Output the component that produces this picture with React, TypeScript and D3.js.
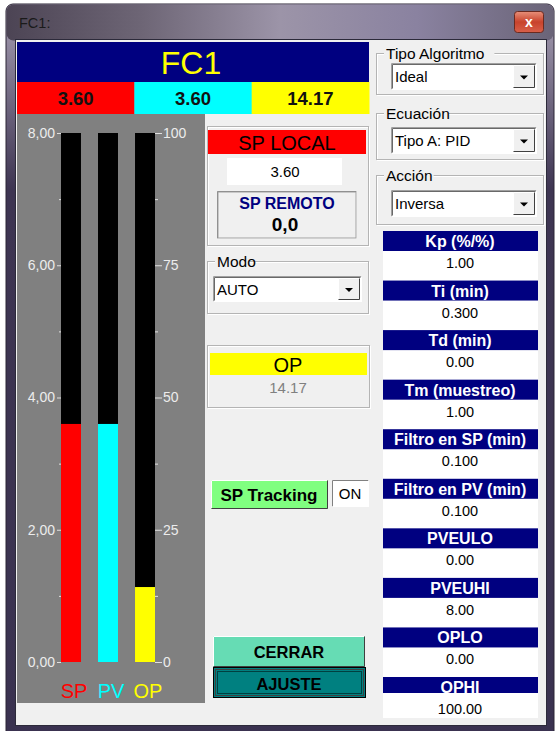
import React from 'react';
import * as d3 from 'd3';

// bar data: SP and PV in engineering units (0-8), OP in percent (0-100)
const barNames = ['SP', 'PV', 'OP'];
const barValues = [3.6, 3.6, 14.17];
const barColors = ['#ff0000', '#00ffff', '#ffff00'];
const headerValues = ['3.60', '3.60', '14.17'];
const euTicks = [0, 2, 4, 6, 8];
const euMinorTicks = [1, 3, 5, 7];
const pctTicks = [0, 25, 50, 75, 100];
const pctMinorTicks = [12.5, 37.5, 62.5, 87.5];

const comboLabels = ['Tipo Algoritmo', 'Ecuación', 'Acción'];
const comboValues = ['Ideal', 'Tipo A: PID', 'Inversa'];

const paramLabels = [
  'Kp (%/%)', 'Ti (min)', 'Td (min)', 'Tm (muestreo)', 'Filtro en SP (min)',
  'Filtro en PV (min)', 'PVEULO', 'PVEUHI', 'OPLO', 'OPHI'
];
const paramValues = ['1.00', '0.300', '0.00', '1.00', '0.100', '0.100', '0.00', '8.00', '0.00', '100.00'];

const tagName = 'FC1';
const spLocal = '3.60';
const spRemote = '0,0';
const mode = 'AUTO';
const opValue = '14.17';

const FONT = '"Liberation Sans", Arial, sans-serif';
const BG = '#f0f0f0';

type BoxProps = { x: number; y: number; w: number; h: number; fill?: string; sunken?: boolean; dark?: string };

const Bevel: React.FC<BoxProps> = ({ x, y, w, h, fill = BG, sunken = false, dark = '#404040' }) => {
  const tl = sunken ? '#808080' : '#ffffff';
  const br = sunken ? '#ffffff' : dark;
  return (
    <g>
      <rect x={x} y={y} width={w} height={h} fill={fill} />
      <path d={`M${x + 0.5},${y + h - 0.5}V${y + 0.5}H${x + w - 0.5}`} stroke={tl} fill="none" />
      <path d={`M${x + 0.5},${y + h - 0.5}H${x + w - 0.5}V${y + 0.5}`} stroke={br} fill="none" />
    </g>
  );
};

const GroupBox: React.FC<{ x: number; y: number; w: number; h: number; label?: string }> = ({ x, y, w, h, label }) => (
  <g>
    <rect x={x + 1.5} y={y + 1.5} width={w - 1} height={h - 1} fill="none" stroke="#ffffff" />
    <rect x={x + 0.5} y={y + 0.5} width={w - 1} height={h - 1} fill="none" stroke="#b4b4b4" />
    {label && (
      <>
        <rect x={x + 8} y={y - 6} width={label.length * 7.6 + 4} height={12} fill={BG} />
        <text x={x + 10} y={y + 6} fontSize={15.5} fontFamily={FONT} fill="#000">{label}</text>
      </>
    )}
  </g>
);

const Combo: React.FC<{ x: number; y: number; w: number; h: number; value: string }> = ({ x, y, w, h, value }) => {
  const bx = x + w - 24;
  return (
    <g>
      <rect x={x} y={y} width={w} height={h} fill="#ffffff" />
      <path d={`M${x + 0.5},${y + h - 0.5}V${y + 0.5}H${x + w - 0.5}`} stroke="#a0a0a0" fill="none" />
      <path d={`M${x + 1.5},${y + h - 1.5}V${y + 1.5}H${x + w - 1.5}`} stroke="#696969" fill="none" />
      <path d={`M${x + 0.5},${y + h - 0.5}H${x + w - 0.5}V${y + 0.5}`} stroke="#ffffff" fill="none" />
      <Bevel x={bx} y={y + 2} w={22} h={h - 4} />
      <path d={`M${bx + 7},${y + h / 2 - 1}h8l-4,4z`} fill="#000" />
      <text x={x + 4} y={y + h / 2 + 5.5} fontSize={15} fontFamily={FONT} fill="#000">{value}</text>
    </g>
  );
};

const App: React.FC = () => {
  const leftAxisRef = React.useRef<SVGGElement>(null);
  const rightAxisRef = React.useRef<SVGGElement>(null);

  const x = d3.scaleBand<string>().domain(barNames).range([61, 155]).paddingInner(0.46).paddingOuter(0);
  const yEu = d3.scaleLinear().domain([0, 8]).range([662, 133]);
  const yPct = d3.scaleLinear().domain([0, 100]).range([662, 133]);
  const yFor = (i: number) => (barNames[i] === 'OP' ? yPct : yEu);

  // header cells across the navy tag box
  const cellX = d3.scaleLinear().domain([0, 3]).range([17, 369]);
  const paramY = d3.scaleLinear().domain([0, paramLabels.length - 1]).range([231, 677]);

  React.useEffect(() => {
    const commaFmt = (d: d3.NumberValue) => d3.format('.2f')(d as number).replace('.', ',');

    const left = d3.select(leftAxisRef.current);
    left.selectAll('*').remove();
    left.append('g').call(d3.axisLeft(yEu).tickValues(euTicks).tickSize(4).tickPadding(2).tickFormat(commaFmt));
    left.append('g').call(d3.axisLeft(yEu).tickValues(euMinorTicks).tickSize(2).tickFormat(() => ''));

    const right = d3.select(rightAxisRef.current);
    right.selectAll('*').remove();
    right.append('g').call(d3.axisRight(yPct).tickValues(pctTicks).tickSize(7).tickPadding(1).tickFormat(d3.format('d')));
    right.append('g').call(d3.axisRight(yPct).tickValues(pctMinorTicks).tickSize(3).tickFormat(() => ''));

    [left, right].forEach((g) => {
      g.selectAll('.domain').remove();
      g.selectAll('line').attr('stroke', '#e0e0e0');
      g.selectAll('text').attr('fill', '#ececec').attr('font-size', 14).attr('font-family', FONT);
    });
  }, []);

  return (
    <svg width={557} height={731} style={{ position: 'absolute', left: 0, top: 0 }} fontFamily={FONT}>
      <defs>
        <linearGradient id="titleGrad" x1="0" x2="1" y1="0" y2="0">
          <stop offset="0" stopColor="#4c4454" />
          <stop offset="0.25" stopColor="#6e6676" />
          <stop offset="0.5" stopColor="#9c94a8" />
          <stop offset="0.75" stopColor="#8a82a0" />
          <stop offset="1" stopColor="#6a6478" />
        </linearGradient>
        <linearGradient id="sideGrad" x1="0" x2="0" y1="0" y2="1">
          <stop offset="0" stopColor="#a8a0b4" />
          <stop offset="0.25" stopColor="#3e3552" />
          <stop offset="1" stopColor="#3a3250" />
        </linearGradient>
        <linearGradient id="closeGrad" x1="0" x2="0" y1="0" y2="1">
          <stop offset="0" stopColor="#e8907a" />
          <stop offset="0.5" stopColor="#c8432c" />
          <stop offset="1" stopColor="#d8604a" />
        </linearGradient>
      </defs>

      <rect width={557} height={731} fill="#ffffff" />

      {/* window frame */}
      <rect x={6} y={4} width={548} height={740} rx={7} fill="url(#sideGrad)" stroke="#2a2434" />
      <rect x={6.5} y={4.5} width={547} height={36} rx={7} fill="url(#titleGrad)" />
      <text x={19} y={28} fontSize={14.5} fill="#1a1a1a">{tagName}:</text>
      <rect x={514.5} y={11.5} width={29} height={21} rx={3} fill="url(#closeGrad)" stroke="#6a2a20" />
      <text x={529} y={27} fontSize={14} fontWeight="bold" fill="#ffffff" textAnchor="middle">x</text>

      {/* client area */}
      <rect x={15.5} y={39.5} width={531} height={686} fill={BG} stroke="#2c2a3a" />

      {/* tag header */}
      <rect x={17} y={42} width={352} height={40} fill="#000080" />
      <text x={191} y={74} fontSize={32} fill="#ffff00" textAnchor="middle">{tagName}</text>
      {headerValues.map((v, i) => (
        <g key={i}>
          <rect x={cellX(i)} y={82} width={cellX(i + 1) - cellX(i) + 0.5} height={32} fill={barColors[i]} />
          <text x={(cellX(i) + cellX(i + 1)) / 2} y={105} fontSize={18.5} fontWeight="bold" fill="#111" textAnchor="middle">{v}</text>
        </g>
      ))}

      {/* bar graph panel */}
      <rect x={17} y={114} width={188} height={589} fill="#808080" />
      {barNames.map((n, i) => {
        const y = yFor(i);
        return (
          <g key={n}>
            <rect x={x(n)} y={y.range()[1]} width={x.bandwidth()} height={y.range()[0] - y.range()[1]} fill="#000000" />
            <rect x={x(n)} y={y(barValues[i])} width={x.bandwidth()} height={y(0) - y(barValues[i])} fill={barColors[i]} />
            <text x={(x(n) as number) + x.bandwidth() / 2 + 3} y={698} fontSize={20} fill={barColors[i]} textAnchor="middle">{n}</text>
          </g>
        );
      })}
      <g ref={leftAxisRef} transform="translate(61,0)" />
      <g ref={rightAxisRef} transform="translate(155,0)" />

      {/* SP local / remote */}
      <GroupBox x={207} y={126} w={162} h={120} />
      <rect x={208} y={130} width={158} height={24} fill="#ff0000" />
      <text x={287} y={149.5} fontSize={20} fill="#000" textAnchor="middle">SP LOCAL</text>
      <rect x={227} y={158} width={115} height={27} fill="#ffffff" />
      <text x={285} y={177} fontSize={15} fill="#000" textAnchor="middle">{spLocal}</text>
      <Bevel x={217} y={191} w={140} h={48} sunken />
      <rect x={218} y={192} width={138} height={46} fill="none" stroke="#a0a0a0" />
      <text x={287} y={209} fontSize={16} fontWeight="bold" fill="#000080" textAnchor="middle">SP REMOTO</text>
      <text x={285} y={231} fontSize={19} fontWeight="bold" fill="#000" textAnchor="middle">{spRemote}</text>

      {/* mode */}
      <GroupBox x={207} y={261} w={162} h={53} label="Modo" />
      <Combo x={213} y={276} w={149} h={26} value={mode} />

      {/* OP */}
      <GroupBox x={207} y={345} w={163} h={63} />
      <rect x={210} y={353} width={157} height={22} fill="#ffff00" />
      <text x={288} y={371.5} fontSize={20} fill="#000" textAnchor="middle">OP</text>
      <text x={288} y={393} fontSize={15} fill="#808080" textAnchor="middle">{opValue}</text>

      {/* SP tracking */}
      <Bevel x={211} y={480} w={117} h={29} fill="#80ff80" />
      <text x={269} y={501} fontSize={17} fontWeight="bold" fill="#000" textAnchor="middle">SP Tracking</text>
      <Bevel x={332} y={480} w={37} h={27} fill="#ffffff" sunken />
      <text x={350} y={499} fontSize={15} fill="#000" textAnchor="middle">ON</text>

      {/* buttons */}
      <Bevel x={213} y={636} w={152} h={31} fill="#66dcb4" />
      <text x={289} y={658} fontSize={16.5} fontWeight="bold" fill="#000" textAnchor="middle">CERRAR</text>
      <rect x={213.5} y={667.5} width={152} height={30} fill="#008080" stroke="#000" />
      <rect x={215.5} y={669.5} width={148} height={26} fill="none" stroke="#404040" />
      <rect x={217.5} y={671.5} width={144} height={22} fill="none" stroke="#000" strokeDasharray="1,1" />
      <text x={289} y={690} fontSize={16.5} fontWeight="bold" fill="#000" textAnchor="middle">AJUSTE</text>

      {/* algorithm combos */}
      {comboLabels.map((l, i) => {
        const gy = [53, 113, 175][i];
        return (
          <g key={l}>
            <GroupBox x={376} y={gy} w={168} h={[42, 47, 50][i]} label={l} />
            <Combo x={391} y={gy + [10, 14, 15][i]} w={146} h={27} value={comboValues[i]} />
          </g>
        );
      })}

      {/* tuning parameters */}
      <rect x={383} y={231} width={155} height={487} fill="#ffffff" />
      {paramLabels.map((l, i) => {
        const py = paramY(i);
        return (
          <g key={l}>
            <rect x={383} y={py} width={155} height={i === paramLabels.length - 1 ? 16 : 20} fill="#000080" />
            <text x={460} y={py + 16} fontSize={16} fontWeight="bold" fill="#ffffff" textAnchor="middle">{l}</text>
            <text x={460} y={py + 37} fontSize={14.5} fill="#000" textAnchor="middle">{paramValues[i]}</text>
          </g>
        );
      })}
    </svg>
  );
};

export default App;
